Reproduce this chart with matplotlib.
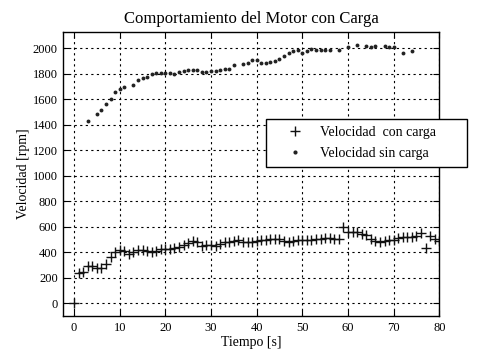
import matplotlib
matplotlib.use("Agg")
import matplotlib.pyplot as plt

# Velocidad con carga (one sample per second)
t_con = list(range(0, 81))
v_con = [0, 235, 245, 295, 290, 280, 280, 305, 360, 405,
         420, 410, 390, 400, 415, 418, 412, 400, 410, 425,
         428, 428, 430, 445, 455, 470, 488, 480, 450, 455,
         457, 450, 465, 480, 478, 485, 495, 482, 478, 480,
         490, 495, 498, 505, 500, 502, 492, 482, 490, 495,
         496, 496, 496, 500, 505, 512, 508, 506, 505, 600,
         555, 560, 558, 545, 538, 505, 485, 482, 490, 496,
         497, 512, 520, 522, 522, 525, 548, 436, 527, 506,
         487]

# Velocidad sin carga
t_sin = [3, 5, 6, 7, 8, 9, 10, 11, 13, 14, 15, 16, 17, 18, 19, 20, 21, 22,
         23, 24, 25, 26, 27, 28, 29, 30, 31, 32, 33, 34, 35, 37, 38, 39, 40,
         41, 42, 43, 44, 45, 46, 47, 48, 49, 50, 51, 52, 53, 54, 55, 56, 58,
         60, 62, 64, 65, 66, 68, 69, 70, 72, 74]
v_sin = [1426, 1483, 1517, 1564, 1599, 1658, 1679, 1695, 1708, 1750, 1763,
         1776, 1797, 1802, 1802, 1802, 1802, 1797, 1810, 1818, 1826, 1826,
         1831, 1810, 1810, 1818, 1818, 1828, 1836, 1836, 1868, 1875, 1886,
         1907, 1905, 1888, 1881, 1894, 1899, 1912, 1938, 1964, 1977, 1985,
         1966, 1980, 1993, 1990, 1990, 1985, 1985, 1985, 2013, 2027, 2016,
         2012, 2016, 2016, 2013, 2011, 1964, 1980]

x_ticks = list(range(0, 81, 10))
y_ticks = list(range(0, 2001, 200))

title = "Comportamiento del Motor con Carga"
xlabel = "Tiempo [s]"
ylabel = "Velocidad [rpm]"
label_con = "Velocidad  con carga"
label_sin = "Velocidad sin carga"

plt.rcParams['font.family'] = ['Liberation Serif', 'DejaVu Serif']

fig = plt.figure(figsize=(4.87, 3.59), dpi=100)
ax = fig.add_axes([63.3 / 487, 1 - 316 / 359, 376 / 487, (316 - 32.3) / 359])

ax.plot(t_con, v_con, linestyle='none', marker='+', markersize=7,
        markeredgewidth=1.0, color='#111111', label=label_con)
ax.plot(t_sin, v_sin, linestyle='none', marker='o', markersize=2.8,
        markeredgewidth=0, color='#222222', label=label_sin)

ax.set_xlim(-2.35, 80)
ax.set_ylim(-100, 2125)
ax.set_xticks(x_ticks)
ax.set_yticks(y_ticks)
ax.grid(True, color='black', linestyle=(0, (2, 3)), linewidth=0.8)
ax.tick_params(direction='in', top=True, right=True, length=4, width=0.8,
               labelsize=9, pad=4)
for s in ax.spines.values():
    s.set_linewidth(1.0)

ax.set_title(title, fontsize=12, pad=7)
ax.set_xlabel(xlabel, fontsize=10, labelpad=2)
ax.set_ylabel(ylabel, fontsize=10, labelpad=2)

leg = ax.legend(loc='upper left', bbox_to_anchor=(0.538, 0.529, 0.536, 0.165),
                mode='expand', fontsize=10, frameon=True, fancybox=False,
                edgecolor='black', framealpha=1, handlelength=3.2,
                handletextpad=0.2, borderpad=0.5, labelspacing=0.55,
                borderaxespad=0, markerscale=1.0)
leg.get_frame().set_linewidth(1.0)
leg.legend_handles[1].set_markersize(3)

fig.savefig("out.png", dpi=100)
